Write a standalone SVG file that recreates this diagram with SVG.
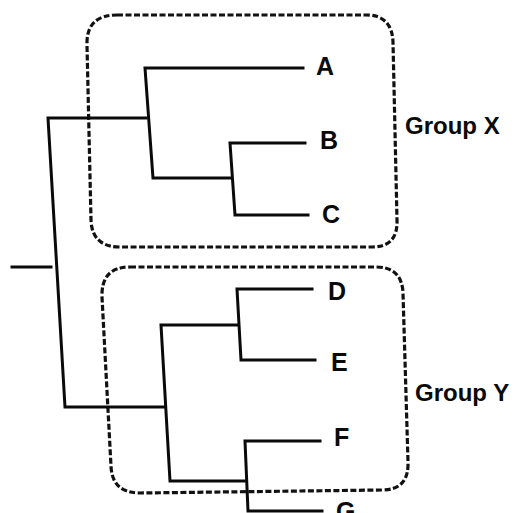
<svg xmlns="http://www.w3.org/2000/svg" width="516" height="513" viewBox="0 0 516 513">
<style>
.box{fill:none;stroke:#111;stroke-width:3.2;stroke-dasharray:6 2.5;stroke-linejoin:round}
.br{fill:none;stroke:#0a0a0a;stroke-width:3;stroke-linecap:square;stroke-linejoin:miter}
.lf{font-family:"Liberation Sans",Arial,sans-serif;font-weight:bold;font-size:25px;fill:#0a0a0a}
.gl{font-family:"Liberation Sans",Arial,sans-serif;font-weight:bold;font-size:24px;fill:#0a0a0a}
</style>
<rect width="516" height="513" fill="#fff"/>
<g id="group-X">
<path class="box" d="M 117 15 L 366 15 Q 392 15 393 42 L 397 220 Q 398 247 372 247 L 120 247 Q 92 247 91 220 L 87 45 Q 86 15 117 15 Z"/>
<text class="gl" x="405" y="134">Group X</text>
</g>
<g id="group-Y">
<path class="box" d="M 130 267 L 376 267 Q 402 267 403 293 L 408 462 Q 409 490 382 490 L 140 493 Q 112 493 111 466 L 102 297 Q 101 267 130 267 Z"/>
<text class="gl" x="415" y="401">Group Y</text>
</g>
<g id="connectors">
<path class="br" d="M 12 267 L 51 267"/>
<path class="br" d="M 146 118 L 48 118 L 65 407 L 164 407"/>
<path class="br" d="M 303 68 L 145 68 L 153 178 L 231 178"/>
<path class="br" d="M 305 143 L 230 143 L 235 215 L 308 215"/>
<path class="br" d="M 238 325 L 161 325 L 170 481 L 246 481"/>
<path class="br" d="M 312 289 L 237 289 L 241 360 L 315 360"/>
<path class="br" d="M 320 441 L 245 441 L 248 511 L 322 511"/>
</g>
<g id="node-A"><text class="lf" x="316" y="75">A</text></g>
<g id="node-B"><text class="lf" x="320" y="149">B</text></g>
<g id="node-C"><text class="lf" x="322" y="223">C</text></g>
<g id="node-D"><text class="lf" x="328" y="300">D</text></g>
<g id="node-E"><text class="lf" x="331" y="371">E</text></g>
<g id="node-F"><text class="lf" x="334" y="446">F</text></g>
<g id="node-G"><text class="lf" x="336" y="520">G</text></g>
</svg>
